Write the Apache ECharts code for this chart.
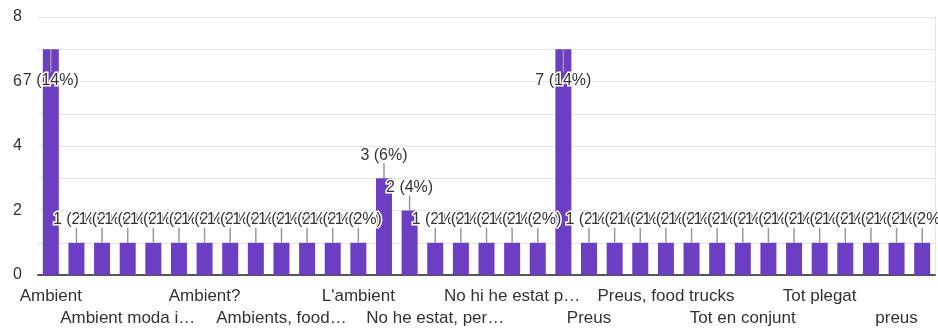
<!DOCTYPE html>
<html>
<head>
<meta charset="utf-8">
<script src="https://cdn.jsdelivr.net/npm/echarts@6/dist/echarts.min.js"></script>
<style>
html, body { margin: 0; padding: 0; background: #fff; }
#chart { width: 938px; height: 329px; }
</style>
</head>
<body>
<div id="chart"></div>
<script>
// answers (sorted like the form summary), only every 3rd name is shown on the axis
var categories = [
  'Ambient', 'Ambient i música', 'Ambient i preus', 'Ambient moda i…', 'Ambient, música', 'Ambient, preus',
  'Ambient?', 'Ambients', 'Ambients i música', 'Ambients, food…', 'Bon ambient', 'El ambient',
  'L\'ambient', 'L\'ambient i la música', 'La música', 'No he estat, per…', 'No hi anat', 'No hi he anat encara',
  'No hi he estat p…', 'Música', 'Preu', 'Preus', 'Preus i ambient', 'Preus i varietat',
  'Preus, food trucks', 'Qualitat', 'Tot', 'Tot en conjunt', 'Tot en general', 'Tot l\'ambient',
  'Tot plegat', 'Varietat', 'ambient', 'preus', 'varietat'
]
var counts = [
  7, 1, 1, 1, 1, 1,
  1, 1, 1, 1, 1, 1,
  1, 3, 2, 1, 1, 1,
  1, 1, 7, 1, 1, 1,
  1, 1, 1, 1, 1, 1,
  1, 1, 1, 1, 1
]
var yTicks = [0, 2, 4, 6, 8]
var yMax = 8

var total = counts.reduce(function (a, b) { return a + b }, 0)
var labelData = counts.map(function (v, i) { return [i, v] })

var chart = echarts.init(document.getElementById('chart'))

// two staggered label rows -> two category axes on the same bottom line
var rowLabel = {
  fontSize: 17,
  color: '#333',
  hideOverlap: false
}

chart.setOption({
  animation: false,
  textStyle: { fontFamily: '"Liberation Sans", Arial, sans-serif' },
  grid: { left: 38, right: 3, top: 17, bottom: 54 },
  xAxis: [
    {
      type: 'category',
      position: 'bottom',
      data: categories,
      axisTick: { show: false },
      axisLine: { lineStyle: { color: '#555', width: 2 } },
      axisLabel: Object.assign({}, rowLabel, {
        margin: 13,
        showMinLabel: true,
        interval: function (index) { return index % 6 === 0 }
      })
    },
    {
      type: 'category',
      position: 'bottom',
      data: categories,
      axisTick: { show: false },
      axisLine: { show: false },
      axisLabel: Object.assign({}, rowLabel, {
        margin: 35,
        interval: function (index) { return index % 6 === 3 }
      })
    }
  ],
  yAxis: [
    {
      type: 'value',
      min: 0,
      max: yMax,
      interval: 1,
      axisLine: { show: false },
      axisTick: { show: false },
      splitLine: { lineStyle: { color: '#e6e6e6' } },
      axisLabel: {
        fontSize: 16,
        color: '#333',
        margin: 16,
        formatter: function (v) { return yTicks.indexOf(v) >= 0 ? v : '' }
      }
    },
    {
      type: 'value',
      position: 'right',
      min: 0,
      max: yMax,
      interval: 1,
      axisLine: { show: true, lineStyle: { color: '#e6e6e6' } },
      axisTick: { show: false },
      axisLabel: { show: false },
      splitLine: { show: false }
    }
  ],
  series: [
    {
      name: 'Respostes',
      type: 'bar',
      barWidth: 16,
      itemStyle: { color: '#6c3ec1' },
      data: counts
    },
    {
      // value labels with a short guide line, like the forms summary
      type: 'custom',
      z: 5,
      data: labelData,
      renderItem: function (params, api) {
        var i = api.value(0)
        var v = api.value(1)
        var top = api.coord([i, v])
        var ceil = api.coord([i, yMax])
        var text = v + ' (' + Math.round(v / total * 100) + '%)'
        var inside = top[1] - ceil[1] < 40
        var cy = inside ? top[1] + 31 : top[1] - 23
        var lineEnd = inside ? cy - 8 : cy + 8
        return {
          type: 'group',
          children: [
            {
              type: 'line',
              shape: { x1: top[0], y1: top[1], x2: top[0], y2: lineEnd },
              style: { stroke: '#999', lineWidth: 1.5 }
            },
            {
              type: 'text',
              x: top[0],
              y: cy,
              style: {
                text: text,
                align: 'center',
                verticalAlign: 'middle',
                font: '16px "Liberation Sans", Arial, sans-serif',
                fill: '#333',
                stroke: '#fff',
                lineWidth: 3
              }
            }
          ]
        }
      }
    }
  ]
})
</script>
</body>
</html>
